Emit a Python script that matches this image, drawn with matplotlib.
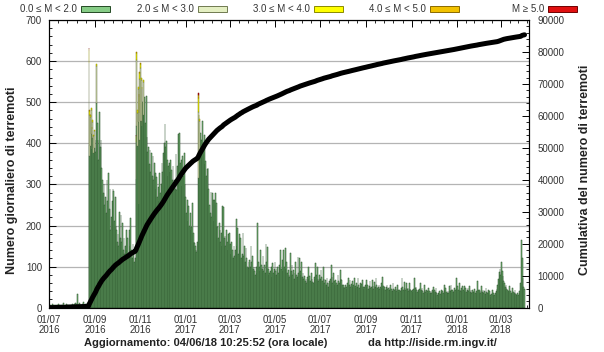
import numpy as np
import pandas as pd
import matplotlib
matplotlib.use('Agg')
import matplotlib.pyplot as plt
import matplotlib.dates as mdates
from matplotlib.patches import Rectangle
from matplotlib.ticker import MultipleLocator, FixedLocator

plt.rcParams['font.family'] = ['Liberation Sans', 'DejaVu Sans']

# numero giornaliero di terremoti (totale), un elenco per mese
lug16 = [6, 4, 7, 5, 3, 8, 6, 5, 9, 4, 6, 7, 5, 10, 6, 4, 8, 5, 7, 6, 12, 5, 4, 7, 9, 6, 5, 8, 4, 6, 7]
ago16 = [5, 8, 6, 9, 7, 12, 10, 34, 8, 6, 11, 7, 9, 5, 8, 14, 10, 7, 9, 6, 8, 12, 9,
         631, 480, 470, 486, 440, 456, 420, 432]
set16 = [408, 380, 593, 450, 408, 360, 477, 390, 408, 340, 310, 280, 302, 250, 270,
         230, 310, 260, 327, 240, 290, 189, 220, 260, 290, 285, 210, 270, 200, 189]
ott16 = [160, 180, 150, 233, 170, 225, 160, 205, 140, 170, 130, 150, 189, 140, 170,
         120, 190, 150, 218, 140, 120, 156, 130, 110, 120, 420, 623, 480, 538, 520, 574]
nov16 = [595, 560, 538, 500, 554, 480, 513, 450, 515, 416, 380, 392, 350, 384, 330,
         376, 320, 368, 310, 352, 327, 290, 319, 270, 294, 260, 327, 280, 302, 352]
dic16 = [330, 376, 400, 448, 390, 405, 360, 320, 344, 352, 330, 360, 336, 310, 344,
         300, 311, 290, 375, 287, 344, 423, 360, 425, 352, 360, 295, 368, 320, 376, 300]
gen17 = [270, 230, 262, 210, 247, 200, 230, 190, 197, 255, 181, 160, 157, 150, 140,
         135, 160, 522, 470, 459, 425, 408, 380, 455, 400, 420, 350, 357, 320, 337, 340]
feb17 = [290, 250, 230, 282, 220, 280, 262, 210, 262, 278, 255, 200, 197, 170, 207,
         190, 160, 182, 150, 247, 245, 170, 175, 150, 190, 160, 140, 180]
mar17 = [182, 155, 130, 160, 140, 120, 150, 125, 140, 216, 150, 195, 130, 180, 140,
         170, 120, 130, 182, 125, 150, 110, 145, 120, 100, 96, 110, 116, 100, 150, 110]
apr17 = [126, 95, 100, 90, 80, 100, 85, 206, 110, 100, 90, 140, 105, 95, 126,
         90, 105, 85, 155, 110, 148, 95, 80, 84, 90, 100, 75, 108, 85, 95]
mag17 = [112, 90, 80, 95, 100, 85, 105, 100, 140, 95, 116, 90, 140, 100, 145,
         95, 110, 85, 92, 80, 75, 132, 90, 105, 80, 92, 70, 85, 112, 80, 75]
giu17 = [124, 85, 120, 90, 80, 112, 75, 84, 70, 76, 65, 70, 60, 75, 100,
         70, 76, 65, 84, 70, 62, 60, 75, 70, 108, 80, 100, 70, 65, 80]
lug17 = [70, 92, 75, 65, 100, 70, 60, 68, 55, 72, 60, 50, 60, 65, 70,
         105, 75, 60, 84, 65, 55, 68, 60, 55, 80, 65, 60, 92, 70, 68, 55]
ago17 = [55, 51, 48, 55, 51, 45, 60, 72, 55, 68, 50, 58, 64, 50, 55,
         72, 52, 48, 60, 50, 72, 55, 48, 60, 52, 58, 67, 50, 45, 51, 55]
set17 = [68, 50, 56, 45, 52, 65, 48, 50, 68, 52, 45, 62, 50, 72, 55,
         48, 50, 56, 45, 50, 60, 48, 75, 52, 45, 51, 44, 50, 56, 45]
ott17 = [48, 42, 50, 56, 45, 40, 60, 46, 42, 51, 45, 40, 56, 44, 38,
         44, 40, 48, 72, 50, 44, 62, 48, 42, 60, 45, 48, 40, 60, 45, 42]
nov17 = [40, 44, 38, 45, 72, 48, 51, 42, 38, 44, 40, 46, 60, 42, 48,
         40, 36, 56, 42, 38, 44, 40, 36, 48, 40, 35, 40, 36, 42, 51]
dic17 = [40, 44, 38, 48, 36, 31, 35, 36, 40, 34, 44, 38, 40, 36, 55,
         42, 48, 38, 35, 40, 36, 52, 40, 55, 42, 44, 38, 40, 48, 42, 72]
gen18 = [45, 52, 42, 60, 44, 40, 48, 40, 52, 42, 54, 40, 48, 38, 42,
         48, 40, 52, 38, 44, 36, 44, 38, 40, 45, 36, 40, 35, 64, 42, 44]
feb18 = [40, 36, 52, 38, 44, 36, 40, 34, 48, 38, 35, 44, 36, 40, 32,
         27, 34, 44, 36, 30, 31, 36, 40, 45, 55, 70, 88, 95]
mar18 = [80, 112, 90, 76, 65, 60, 50, 55, 45, 42, 40, 38, 52, 40, 36,
         34, 48, 38, 36, 44, 34, 31, 33, 36, 32, 40, 35, 60, 165, 120, 72]
apr18 = [50, 45]

# giorni con eventi di magnitudo piu' alta (conteggi per classe)
date_forti = ['2016-08-24', '2016-08-25', '2016-08-26', '2016-08-27', '2016-08-28',
              '2016-08-29', '2016-08-30', '2016-08-31', '2016-09-03',
              '2016-10-26', '2016-10-27', '2016-10-28', '2016-10-29', '2016-10-30',
              '2016-10-31', '2016-11-01', '2016-11-02', '2016-11-03', '2016-11-05',
              '2017-01-18', '2017-01-19', '2017-01-20']
n_m2 = [200, 100, 70, 60, 50, 40, 40, 40, 90, 90, 160, 80, 80, 220, 150, 130, 100, 90, 80, 160, 90, 70]
n_m3 = [30, 10, 6, 4, 4, 3, 3, 3, 5, 12, 18, 6, 5, 40, 15, 10, 6, 5, 4, 35, 8, 5]
n_m4 = [4, 1, 1, 0, 0, 0, 0, 0, 0, 2, 3, 0, 0, 6, 2, 1, 0, 0, 0, 8, 1, 0]
n_m5 = [2, 0, 0, 0, 0, 0, 0, 0, 0, 2, 0, 0, 0, 1, 0, 0, 0, 0, 0, 4, 0, 0]

classi = ['0.0 \u2264 M < 2.0', '2.0 \u2264 M < 3.0', '3.0 \u2264 M < 4.0', '4.0 \u2264 M < 5.0', 'M \u2265 5.0']
colori = ['#86cc86', '#e4efc2', '#ffff00', '#f2c200', '#e01010']
bordi = ['#244a24', '#6f7a50', '#8a8a00', '#8a6a00', '#700000']

n_tot = np.array(lug16 + ago16 + set16 + ott16 + nov16 + dic16 + gen17 + feb17 + mar17 + apr17
                 + mag17 + giu17 + lug17 + ago17 + set17 + ott17 + nov17 + dic17 + gen18 + feb18
                 + mar18 + apr18, dtype=float)
giorni = pd.date_range('2016-07-01', periods=len(n_tot), freq='D')

alte = []
for vals in [n_m2, n_m3, n_m4, n_m5]:
    s = pd.Series(0.0, index=giorni)
    s.loc[pd.to_datetime(date_forti)] = vals
    alte.append(s.values)
m0 = n_tot - sum(alte)
cumulativa = np.cumsum(n_tot)

W, H = 604, 352
fig = plt.figure(figsize=(W / 100, H / 100), dpi=100)
ax = fig.add_axes([49 / W, 1 - 307.7 / H, 480 / W, 287.7 / H])

x = mdates.date2num(giorni)
base = np.zeros(len(x))
for vals, fc, ec in zip([m0] + alte, colori, bordi):
    ok = vals > 0
    ax.bar(x[ok], vals[ok], width=1.0, bottom=base[ok], color=fc, edgecolor=ec, linewidth=0.35)
    base = base + vals

ax.set_xlim(mdates.date2num(pd.Timestamp('2016-07-01')), mdates.date2num(pd.Timestamp('2018-04-08')))
ax.set_ylim(0, 700)
ax.yaxis.set_major_locator(MultipleLocator(100))
ax.yaxis.set_minor_locator(MultipleLocator(20))
ax.yaxis.grid(True, color='#b4b4b4', linewidth=0.9)
ax.set_axisbelow(True)

maj = pd.date_range('2016-07-01', '2018-04-08', freq='2MS')
majn = mdates.date2num(maj)
minn = []
for a, b in zip(majn[:-1], majn[1:]):
    minn += list(a + (b - a) * np.arange(1, 5) / 5)
minn += list(majn[-1] + (majn[-1] - majn[-2]) * np.arange(1, 5) / 5)
ax.xaxis.set_major_locator(FixedLocator(majn))
ax.xaxis.set_minor_locator(FixedLocator(minn))
ax.set_xticklabels([d.strftime('%d/%m\n%Y') for d in maj])

ax.tick_params(axis='x', which='both', direction='in', top=True, labelsize=7, labelcolor='#333333', pad=5)
ax.tick_params(axis='y', which='both', direction='in', right=False, labelsize=7, labelcolor='#333333', pad=5)
ax.tick_params(which='major', length=5, width=0.7)
ax.tick_params(which='minor', length=2.5, width=0.6)
for lab in ax.get_xticklabels():
    lab.set_linespacing(1.05)

ax2 = ax.twinx()
ax2.plot(x, cumulativa, color='black', linewidth=3.6, solid_capstyle='round')
ax2.set_ylim(0, 90000)
ax2.yaxis.set_major_locator(MultipleLocator(10000))
ax2.yaxis.set_minor_locator(MultipleLocator(2000))
ax2.tick_params(axis='y', which='both', direction='in', labelsize=7, labelcolor='#333333', pad=6)
ax2.tick_params(which='major', length=5, width=0.7)
ax2.tick_params(which='minor', length=2.5, width=0.6)

for a in (ax, ax2):
    for sp in a.spines.values():
        sp.set_linewidth(0.8)

fig.text(12 / W, 1 - 180 / H, 'Numero giornaliero di terremoti', rotation=90,
         ha='center', va='center', fontsize=9, fontweight='bold', color='#222222')
fig.text(585 / W, 1 - 170 / H, 'Cumulativa del numero di terremoti', rotation=90,
         ha='center', va='center', fontsize=9, fontweight='bold', color='#222222')
fig.text(84 / W, 1 - 343 / H, 'Aggiornamento: 04/06/18 10:25:52 (ora locale)',
         ha='left', va='center', fontsize=8, fontweight='bold', color='#222222')
fig.text(368 / W, 1 - 343 / H, 'da http://iside.rm.ingv.it/',
         ha='left', va='center', fontsize=8, fontweight='bold', color='#222222')

# legenda in alto
fine_testo = [77, 194, 310, 426, 544]
for lab, fc, ec, xt in zip(classi, colori, bordi, fine_testo):
    fig.text(xt / W, 1 - 8.5 / H, lab, ha='right', va='center', fontsize=7, color='#333333')
    fig.patches.append(Rectangle(((xt + 4) / W, 1 - 11.5 / H), 29 / W, 5.5 / H,
                                 transform=fig.transFigure, facecolor=fc, edgecolor=ec, linewidth=0.7))

fig.savefig('out.png', dpi=100)
